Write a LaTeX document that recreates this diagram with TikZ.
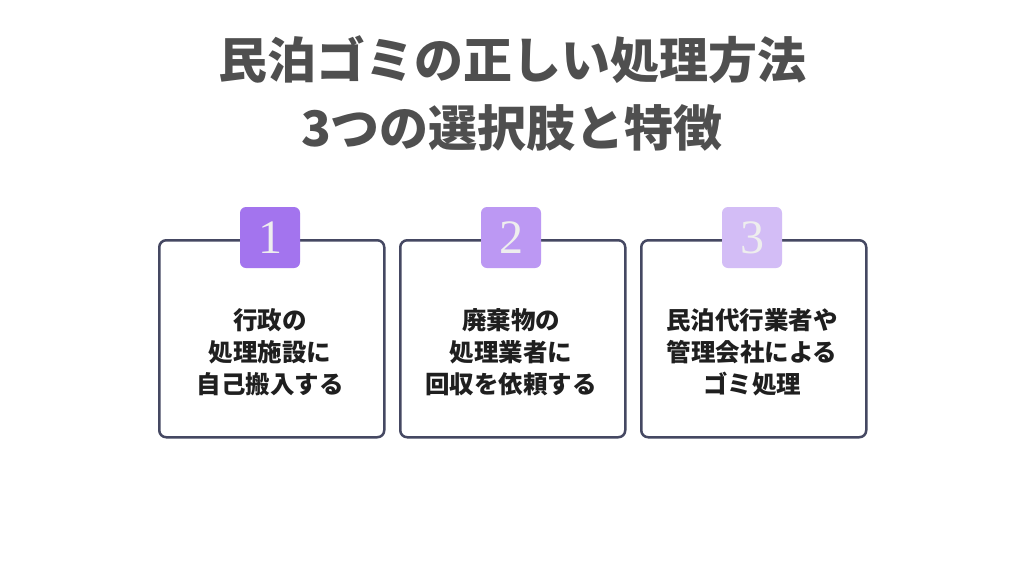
\documentclass[tikz,border=0pt]{standalone}
\usepackage{fontspec}
\newfontfamily\cjk{Noto Sans CJK JP}
\newfontfamily\numf{Liberation Serif}
\definecolor{bordc}{HTML}{454862}
\definecolor{titc}{HTML}{4F4F4F}
\definecolor{ba}{HTML}{A374EE}
\definecolor{bb}{HTML}{BC98F3}
\definecolor{bc}{HTML}{D3BDF6}
\definecolor{numc}{HTML}{EEEEEE}
\tikzset{x=1pt,y=-1pt,
 card/.style={draw=bordc,line width=2.5pt,rounded corners=7pt,fill=white,minimum width=225pt,minimum height=197pt,anchor=north west},
 badge/.style={rounded corners=6pt,minimum width=60pt,minimum height=61pt,text=numc,font=\numf\fontsize{48}{48}\selectfont,inner sep=0pt},
 body/.style={font=\cjk\bfseries\fontsize{24.5}{32}\selectfont,text=black!88,align=center}}
\begin{document}
\begin{tikzpicture}
\useasboundingbox (0,0) rectangle (1024,576);
\fill[white] (0,0) rectangle (1024,576);
\node[font=\cjk\bfseries\fontsize{49}{68}\selectfont,text=titc,align=center] (title) at (512,93.5) {民泊ゴミの正しい処理方法\\3つの選択肢と特徴};
\node[card] (c1) at (158,239) {};
\node[card] (c2) at (399,239) {};
\node[card] (c3) at (640,239) {};
\node[badge,fill=ba] (b1) at (270,237.5) {1};
\node[badge,fill=bb] (b2) at (511,237.5) {2};
\node[badge,fill=bc] (b3) at (752,237.5) {3};
\node[body] (t1) at (270,352) {行政の\\処理施設に\\自己搬入する};
\node[body] (t2) at (511,352) {廃棄物の\\処理業者に\\回収を依頼する};
\node[body] (t3) at (752,352) {民泊代行業者や\\管理会社による\\ゴミ処理};
\end{tikzpicture}
\end{document}
